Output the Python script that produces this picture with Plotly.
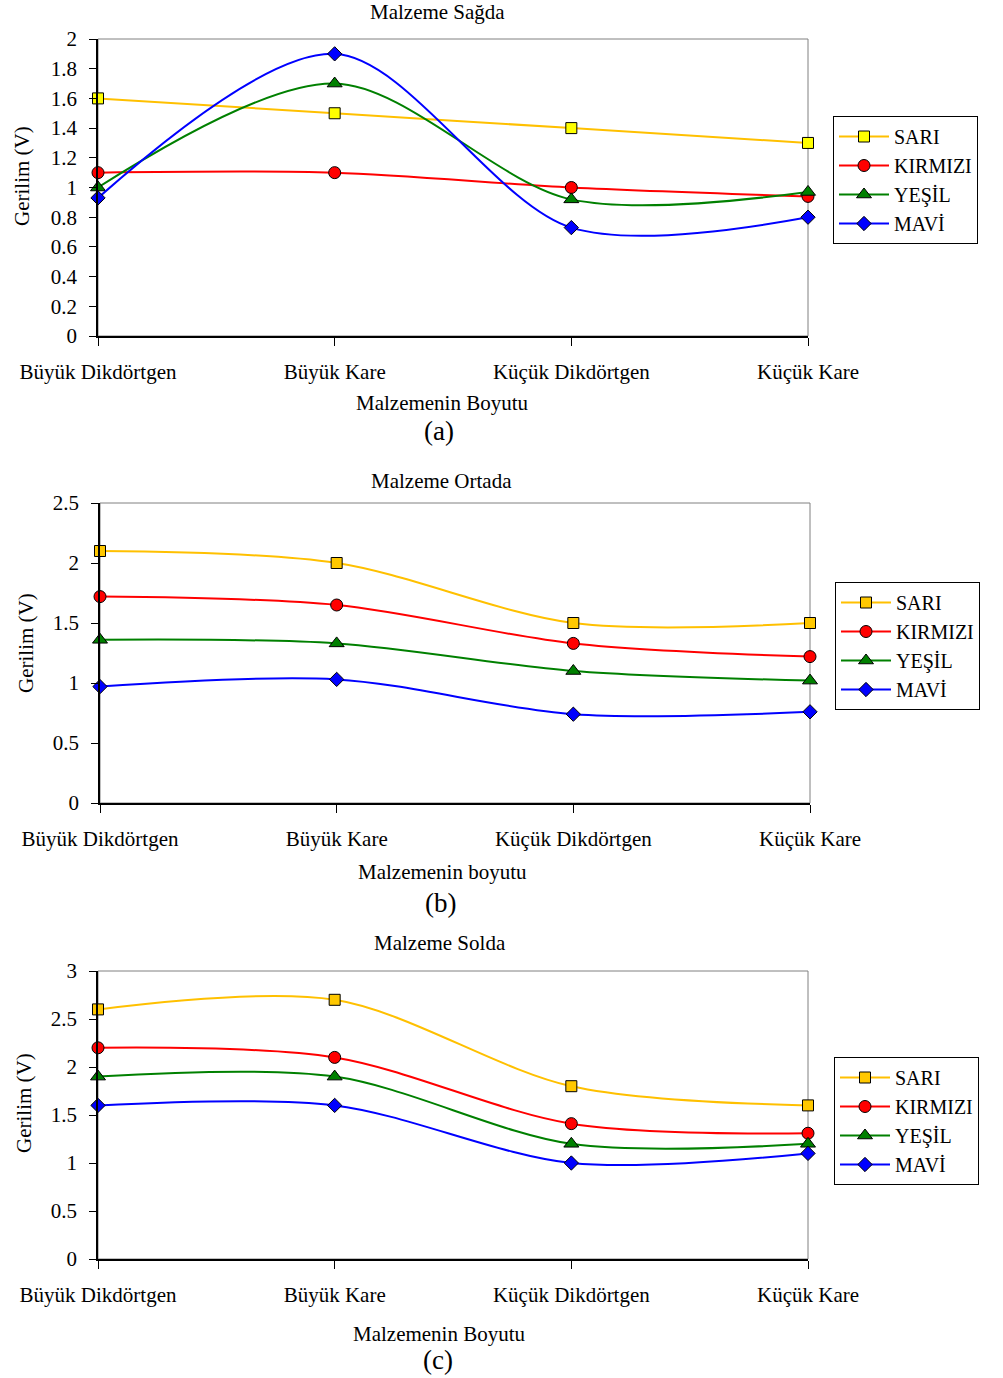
import plotly.graph_objects as go

W, H = 1003, 1378
FONT = "Liberation Serif"

categories = ["Büyük Dikdörtgen", "Büyük Kare", "Küçük Dikdörtgen", "Küçük Kare"]
series_names = ["SARI", "KIRMIZI", "YEŞİL", "MAVİ"]

# Panel (a) Malzeme Sağda
a_sari = [1.6, 1.5, 1.4, 1.3]
a_kirmizi = [1.1, 1.1, 1.0, 0.94]
a_yesil = [1.0, 1.7, 0.92, 0.97]
a_mavi = [0.93, 1.9, 0.73, 0.80]

# Panel (b) Malzeme Ortada
b_sari = [2.1, 2.0, 1.5, 1.5]
b_kirmizi = [1.72, 1.65, 1.33, 1.22]
b_yesil = [1.36, 1.33, 1.10, 1.02]
b_mavi = [0.97, 1.03, 0.74, 0.76]

# Panel (c) Malzeme Solda
c_sari = [2.6, 2.7, 1.8, 1.6]
c_kirmizi = [2.2, 2.1, 1.41, 1.31]
c_yesil = [1.9, 1.9, 1.2, 1.2]
c_mavi = [1.6, 1.6, 1.0, 1.1]

panel_titles = ["Malzeme Sağda", "Malzeme Ortada", "Malzeme Solda"]
x_titles = ["Malzemenin Boyutu", "Malzemenin boyutu", "Malzemenin Boyutu"]
captions = ["(a)", "(b)", "(c)"]
y_title = "Gerilim (V)"
y_ranges = [(0, 2), (0, 2.5), (0, 3)]
y_dticks = [0.2, 0.5, 0.5]

panels = [
    [a_sari, a_kirmizi, a_yesil, a_mavi],
    [b_sari, b_kirmizi, b_yesil, b_mavi],
    [c_sari, c_kirmizi, c_yesil, c_mavi],
]

line_colors = ["#FFC000", "#FF0000", "#008000", "#0000FF"]
marker_fills = [
    ["#FFFF00", "#FF0000", "#008000", "#0000FF"],
    ["#FFC800", "#FF0000", "#008000", "#0000FF"],
    ["#FFC800", "#FF0000", "#008000", "#0000FF"],
]
symbols = ["square", "circle", "triangle-up", "diamond"]
msizes = [11, 12, 13, 11]

# layout geometry in screen pixels
plot_boxes = [  # x0, x1, ytop, ybottom
    (98, 808, 39, 336),
    (100, 810, 503, 803),
    (98, 808, 971, 1259),
]
legend_pos = [(833, 180), (835, 646), (834, 1121)]  # left x, vertical centre
title_pos = [(437, 12), (441, 481), (440, 943)]
xtitle_pos = [(442, 403), (442, 872), (439, 1334)]
caption_pos = [(439, 431), (440, 903), (438, 1360)]
ytitle_pos = [(22, 176), (26, 643), (24, 1103)]


def px(x):
    return x / W


def py(y):
    return 1 - y / H


fig = go.Figure()
xs = list(range(len(categories)))

for p, data in enumerate(panels):
    xa = "x" if p == 0 else f"x{p + 1}"
    ya = "y" if p == 0 else f"y{p + 1}"
    lg = "legend" if p == 0 else f"legend{p + 1}"
    for s, vals in enumerate(data):
        fig.add_trace(go.Scatter(
            x=xs, y=vals, name=series_names[s],
            mode="lines+markers",
            line=dict(color=line_colors[s], width=2, shape="spline", smoothing=0.9),
            marker=dict(symbol=symbols[s], size=msizes[s], color=marker_fills[p][s],
                        line=dict(color="black", width=1)),
            cliponaxis=False,
            xaxis=xa, yaxis=ya, legend=lg,
        ))

layout = dict(
    width=W, height=H,
    margin=dict(l=0, r=0, t=0, b=0, autoexpand=False),
    paper_bgcolor="white", plot_bgcolor="white",
    font=dict(family=FONT, size=20, color="black"),
    showlegend=True,
    annotations=[], shapes=[],
)

for p in range(3):
    x0, x1, yt, yb = plot_boxes[p]
    sx = "" if p == 0 else str(p + 1)
    layout[f"xaxis{sx}"] = dict(
        domain=[px(x0), px(x1)], range=[0, 3], anchor=f"y{sx}",
        tickvals=xs, ticktext=categories, ticks="outside", ticklen=8,
        tickcolor="black", showline=True, linecolor="black", linewidth=1.5,
        showgrid=False, zeroline=False, ticklabelstandoff=8,
        tickfont=dict(family=FONT, size=21, color="black"), fixedrange=True,
    )
    layout[f"yaxis{sx}"] = dict(
        domain=[py(yb), py(yt)], range=list(y_ranges[p]), anchor=f"x{sx}",
        dtick=y_dticks[p], tick0=0, ticks="outside", ticklen=7, tickcolor="black",
        showline=True, linecolor="black", linewidth=1.5,
        showgrid=False, zeroline=False, ticklabelstandoff=8,
        tickfont=dict(family=FONT, size=21, color="black"), fixedrange=True,
    )
    lk = "legend" if p == 0 else f"legend{p + 1}"
    lx, ly = legend_pos[p]
    layout[lk] = dict(
        x=px(lx), y=py(ly), xanchor="left", yanchor="middle",
        bordercolor="black", borderwidth=1, bgcolor="white",
        font=dict(family=FONT, size=20, color="black"),
        tracegroupgap=0, itemwidth=50,
    )
    layout["shapes"].append(dict(
        type="rect", xref=f"x{sx} domain", yref=f"y{sx} domain",
        x0=0, x1=1, y0=0, y1=1, line=dict(color="#808080", width=1), layer="below",
    ))
    tx, ty = title_pos[p]
    layout["annotations"].append(dict(
        text=panel_titles[p], x=px(tx), y=py(ty), xref="paper", yref="paper",
        showarrow=False, font=dict(family=FONT, size=21), xanchor="center", yanchor="middle"))
    tx, ty = xtitle_pos[p]
    layout["annotations"].append(dict(
        text=x_titles[p], x=px(tx), y=py(ty), xref="paper", yref="paper",
        showarrow=False, font=dict(family=FONT, size=21), xanchor="center", yanchor="middle"))
    tx, ty = caption_pos[p]
    layout["annotations"].append(dict(
        text=captions[p], x=px(tx), y=py(ty), xref="paper", yref="paper",
        showarrow=False, font=dict(family=FONT, size=27), xanchor="center", yanchor="middle"))
    tx, ty = ytitle_pos[p]
    layout["annotations"].append(dict(
        text=y_title, x=px(tx), y=py(ty), xref="paper", yref="paper", textangle=-90,
        showarrow=False, font=dict(family=FONT, size=21), xanchor="center", yanchor="middle"))

fig.update_layout(**layout)
fig.write_html(
    "out.html",
    config={"displayModeBar": False},
    post_script="document.body.style.margin='0';document.body.style.overflow='hidden';",
)
